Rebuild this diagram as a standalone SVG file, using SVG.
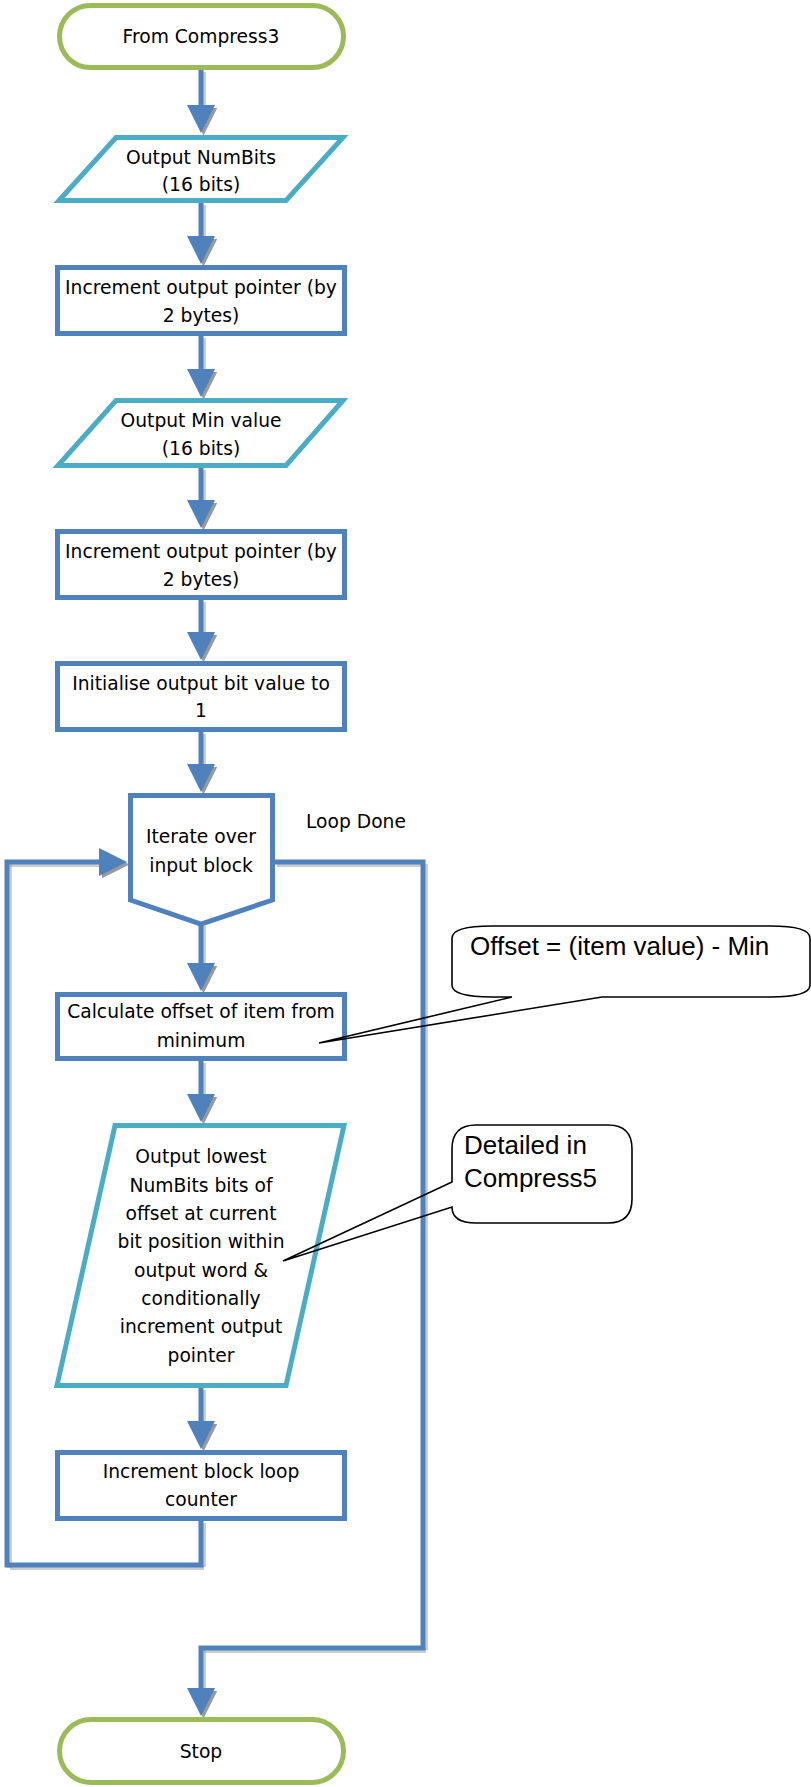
<svg xmlns="http://www.w3.org/2000/svg" width="811" height="1787" viewBox="0 0 811 1787">
  <style>
    .term { fill: #ffffff; stroke: #9BBB59; stroke-width: 5; }
    .io { fill: #ffffff; stroke: #4BACC6; stroke-width: 5; stroke-linejoin: miter; }
    .proc { fill: #ffffff; stroke: #4F81BD; stroke-width: 5; }
    .lbl { font-family: "DejaVu Sans", Verdana, sans-serif; font-size: 18.7px; fill: #000000; text-anchor: middle; }
    .free { font-family: "DejaVu Sans", Verdana, sans-serif; font-size: 18.7px; fill: #000000; }
    .conn { fill: none; stroke: #4F81BD; stroke-width: 5; stroke-linejoin: miter; }
    .shadow { fill: none; stroke: #9a9a9a; stroke-width: 5; stroke-dasharray: 1 1; }
    .callout { fill: none; stroke: #000000; stroke-width: 1.6; stroke-linejoin: miter; }
    .ctext { font-family: "Liberation Sans", Arial, sans-serif; font-size: 26px; fill: #000000; }
  </style>
  <defs>
    <marker id="arrow" markerUnits="userSpaceOnUse" markerWidth="28" markerHeight="28" viewBox="0 0 28 28" refX="8" refY="14" orient="auto">
      <path d="M0,0 L28,14 L0,28 Z" fill="#4F81BD"/>
    </marker>
    <marker id="arrow-shadow" markerUnits="userSpaceOnUse" markerWidth="28" markerHeight="28" viewBox="0 0 28 28" refX="8" refY="14" orient="auto">
      <path d="M0,0 L28,14 L0,28 Z" fill="#9a9a9a"/>
    </marker>
  </defs>

  <!-- connectors: drop shadow first, then the blue lines -->
  <g id="connectors">
    <g id="connector-shadows" transform="translate(2.5,2.5)">
      <path class="shadow" marker-end="url(#arrow-shadow)" d="M201,70 V113"/>
      <path class="shadow" marker-end="url(#arrow-shadow)" d="M201,203 V244"/>
      <path class="shadow" marker-end="url(#arrow-shadow)" d="M201,336 V377"/>
      <path class="shadow" marker-end="url(#arrow-shadow)" d="M201,468 V508"/>
      <path class="shadow" marker-end="url(#arrow-shadow)" d="M201,600 V640"/>
      <path class="shadow" marker-end="url(#arrow-shadow)" d="M201,732 V772"/>
      <path class="shadow" marker-end="url(#arrow-shadow)" d="M201,924 V971"/>
      <path class="shadow" marker-end="url(#arrow-shadow)" d="M201,1061 V1102"/>
      <path class="shadow" marker-end="url(#arrow-shadow)" d="M201,1388 V1429"/>
      <path class="shadow" marker-end="url(#arrow-shadow)" d="M201,1521 V1565 H7 V862 H107"/>
      <path class="shadow" marker-end="url(#arrow-shadow)" d="M275,862 H423 V1648 H201 V1696"/>
    </g>
    <path class="conn" marker-end="url(#arrow)" d="M201,70 V113"/>
    <path class="conn" marker-end="url(#arrow)" d="M201,203 V244"/>
    <path class="conn" marker-end="url(#arrow)" d="M201,336 V377"/>
    <path class="conn" marker-end="url(#arrow)" d="M201,468 V508"/>
    <path class="conn" marker-end="url(#arrow)" d="M201,600 V640"/>
    <path class="conn" marker-end="url(#arrow)" d="M201,732 V772"/>
    <path class="conn" marker-end="url(#arrow)" d="M201,924 V971"/>
    <path class="conn" marker-end="url(#arrow)" d="M201,1061 V1102"/>
    <path class="conn" marker-end="url(#arrow)" d="M201,1388 V1429"/>
    <!-- loop back to the iterator -->
    <path class="conn" marker-end="url(#arrow)" d="M201,1518 V1565 H7 V862 H107"/>
    <!-- loop done exit -->
    <path class="conn" marker-end="url(#arrow)" d="M272,862 H423 V1648 H201 V1696"/>
    <text class="free" x="306" y="828">Loop Done</text>
  </g>

  <g id="start">
    <rect class="term" x="59.5" y="5.5" width="284" height="62" rx="31" ry="31"/>
    <text class="lbl" x="201" y="43">From Compress3</text>
  </g>

  <g id="output-numbits">
    <polygon class="io" points="116,137.5 343,137.5 286,200.5 59,200.5"/>
    <text class="lbl" x="201" y="164">Output NumBits</text>
    <text class="lbl" x="201" y="191">(16 bits)</text>
  </g>

  <g id="increment-pointer-1">
    <rect class="proc" x="57.5" y="267.5" width="287" height="66"/>
    <text class="lbl" x="201" y="294">Increment output pointer (by</text>
    <text class="lbl" x="201" y="322">2 bytes)</text>
  </g>

  <g id="output-min">
    <polygon class="io" points="116,400.5 343,400.5 286,465.5 58,465.5"/>
    <text class="lbl" x="201" y="427">Output Min value</text>
    <text class="lbl" x="201" y="455">(16 bits)</text>
  </g>

  <g id="increment-pointer-2">
    <rect class="proc" x="57.5" y="531.5" width="287" height="66"/>
    <text class="lbl" x="201" y="558">Increment output pointer (by</text>
    <text class="lbl" x="201" y="586">2 bytes)</text>
  </g>

  <g id="init-bit-value">
    <rect class="proc" x="57.5" y="663.5" width="287" height="66"/>
    <text class="lbl" x="201" y="690">Initialise output bit value to</text>
    <text class="lbl" x="201" y="717">1</text>
  </g>

  <g id="iterate">
    <polygon class="proc" points="130.5,795.5 272.5,795.5 272.5,900 201,924 130.5,900"/>
    <text class="lbl" x="201" y="843">Iterate over</text>
    <text class="lbl" x="201" y="872">input block</text>
  </g>

  <g id="calc-offset">
    <rect class="proc" x="57.5" y="994.5" width="287" height="64"/>
    <text class="lbl" x="201" y="1018">Calculate offset of item from</text>
    <text class="lbl" x="201" y="1047">minimum</text>
  </g>

  <g id="output-bits">
    <polygon class="io" points="115,1125.5 344,1125.5 286,1385.5 57,1385.5"/>
    <text class="lbl" x="201" y="1163">Output lowest</text>
    <text class="lbl" x="201" y="1192">NumBits bits of</text>
    <text class="lbl" x="201" y="1220">offset at current</text>
    <text class="lbl" x="201" y="1248">bit position within</text>
    <text class="lbl" x="201" y="1277">output word &amp;</text>
    <text class="lbl" x="201" y="1305">conditionally</text>
    <text class="lbl" x="201" y="1333">increment output</text>
    <text class="lbl" x="201" y="1362">pointer</text>
  </g>

  <g id="increment-loop">
    <rect class="proc" x="57.5" y="1452.5" width="287" height="66"/>
    <text class="lbl" x="201" y="1478">Increment block loop</text>
    <text class="lbl" x="201" y="1506">counter</text>
  </g>

  <g id="stop">
    <rect class="term" x="59.5" y="1719.5" width="284" height="63" rx="31.5" ry="31.5"/>
    <text class="lbl" x="201" y="1758">Stop</text>
  </g>

  <g id="note-offset">
    <path class="callout" d="M492,926 L770,926 Q810,926 810,938 L810,985 Q810,997 770,997 L602,997 L319,1043 L512,997 L492,997 Q452,997 452,985 L452,938 Q452,926 492,926 Z"/>
    <text class="ctext" x="470" y="955">Offset = (item value) - Min</text>
  </g>

  <g id="note-compress5">
    <path class="callout" d="M476,1125 L608,1125 Q632,1125 632,1149 L632,1199 Q632,1223 608,1223 L476,1223 Q452,1223 452,1207 L283,1261 L452,1182 L452,1149 Q452,1125 476,1125 Z"/>
    <text class="ctext" x="464" y="1154">Detailed in</text>
    <text class="ctext" x="464" y="1187">Compress5</text>
  </g>
</svg>
